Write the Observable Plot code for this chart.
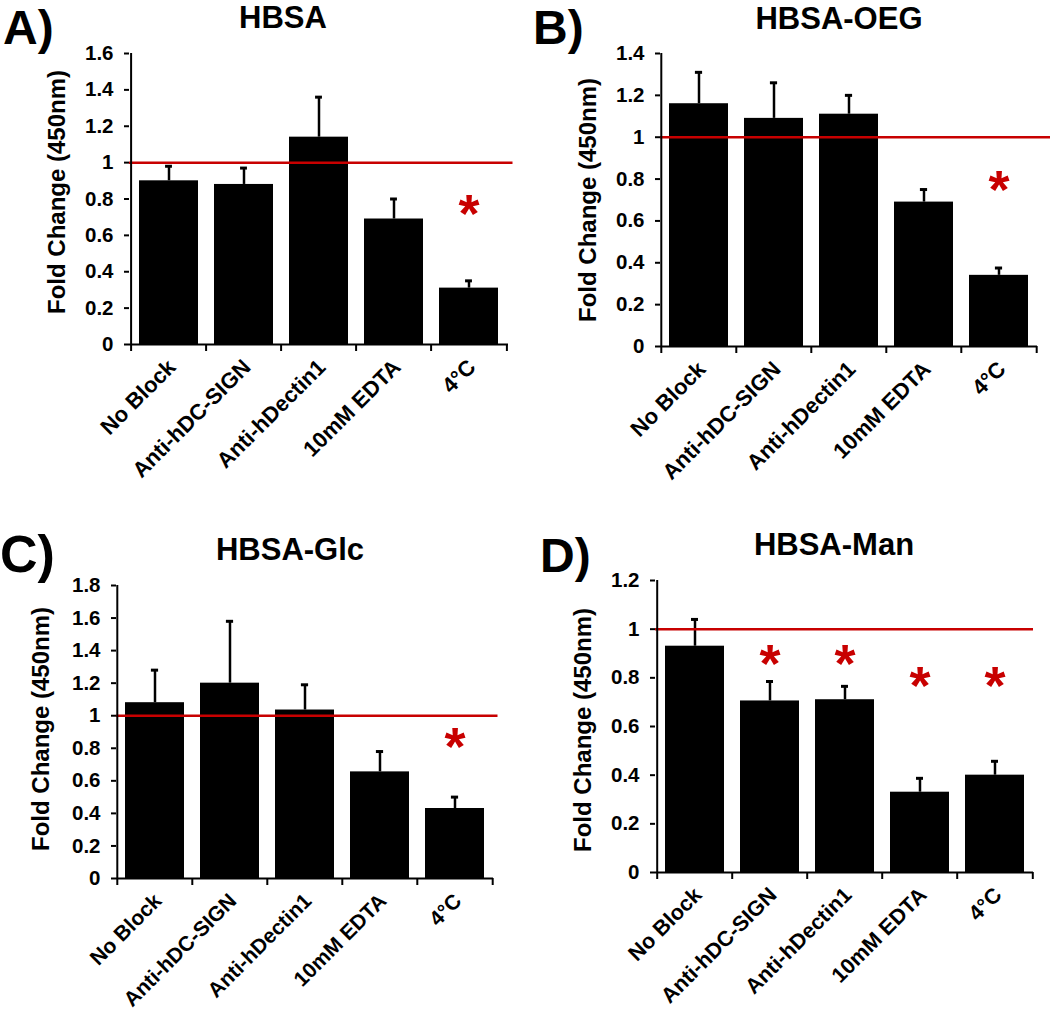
<!DOCTYPE html>
<html><head><meta charset="utf-8">
<script src="https://cdn.jsdelivr.net/npm/d3@7"></script>
<script src="https://cdn.jsdelivr.net/npm/@observablehq/plot@0.6"></script>
<style>
body{margin:0;background:#fff;}
#fig{position:relative;width:1050px;height:1014px;overflow:hidden;font-family:"Liberation Sans",Arial,sans-serif;font-weight:bold;color:#000;}
.panel{position:absolute;}
.letter{position:absolute;line-height:normal;white-space:nowrap;}
.title{position:absolute;font-size:31px;line-height:normal;white-space:nowrap;transform:translateX(-50%);}
.ylab{position:absolute;font-size:24px;line-height:1;white-space:nowrap;transform:translate(-50%,-50%) rotate(-90deg);}
</style></head>
<body><div id="fig"></div>
<script>
// ---------- data ----------
const categories = ["No Block", "Anti-hDC-SIGN", "Anti-hDectin1", "10mM EDTA", "4°C"];

const hbsaMean    = [0.90, 0.88, 1.14, 0.69, 0.31];
const hbsaErr     = [0.08, 0.09, 0.22, 0.11, 0.04];
const hbsaStars   = [null, null, null, null, 0.79];

const oegMean     = [1.16, 1.09, 1.11, 0.69, 0.34];
const oegErr      = [0.15, 0.17, 0.09, 0.06, 0.035];
const oegStars    = [null, null, null, null, 0.81];

const glcMean     = [1.08, 1.20, 1.035, 0.655, 0.43];
const glcErr      = [0.20, 0.38, 0.155, 0.125, 0.07];
const glcStars    = [null, null, null, null, 0.89];

const manMean     = [0.93, 0.705, 0.71, 0.33, 0.40];
const manErr      = [0.11, 0.08, 0.055, 0.057, 0.057];
const manStars    = [null, 0.91, 0.91, 0.82, 0.82];

const ticksA = [0, 0.2, 0.4, 0.6, 0.8, 1, 1.2, 1.4, 1.6];
const ticksB = [0, 0.2, 0.4, 0.6, 0.8, 1, 1.2, 1.4];
const ticksC = [0, 0.2, 0.4, 0.6, 0.8, 1, 1.2, 1.4, 1.6, 1.8];
const ticksD = [0, 0.2, 0.4, 0.6, 0.8, 1, 1.2];

const baseline = 1; // reference fold change
const yLabel = "Fold Change (450nm)";

// ---------- drawing ----------
const RED = "#c80000";
const PAD = 0.22;
const FONT = "'Liberation Sans', Arial, sans-serif";
const fig = document.getElementById("fig");

function makePanel(opt) {
  const {means, errs, stars, ticks, left, top, width, height, mL, mR, mT, mB, redExt, xFont} = opt;
  const data = categories.map((c, i) => ({cat: c, mean: means[i], top: means[i] + errs[i]}));
  const starData = categories.map((c, i) => ({cat: c, y: stars[i]})).filter(d => d.y != null);
  const step = (width - mL - mR) / categories.length;
  const bw = step * (1 - PAD);
  const capInset = (bw - 7) / 2;
  const yMax = ticks[ticks.length - 1];
  const chart = Plot.plot({
    width, height,
    marginLeft: mL, marginRight: mR, marginTop: mT, marginBottom: mB,
    style: {fontFamily: FONT, fontWeight: "bold", fontSize: "20px", color: "black", background: "transparent", overflow: "visible"},
    x: {domain: categories, paddingInner: PAD, paddingOuter: PAD / 2},
    y: {domain: [0, yMax]},
    marks: [
      Plot.barY(data, {x: "cat", y: "mean", fill: "black"}),
      Plot.ruleX(data, {x: "cat", y1: "mean", y2: "top", stroke: "black", strokeWidth: 2.5}),
      Plot.tickY(data, {x: "cat", y: "top", stroke: "black", strokeWidth: 3, insetLeft: capInset, insetRight: capInset}),
      Plot.ruleY([baseline], {stroke: RED, strokeWidth: 2.5, insetRight: -redExt}),
      Plot.ruleY([0], {stroke: "black", strokeWidth: 2}),
      Plot.ruleX([categories[0]], {dx: -step / 2, stroke: "black", strokeWidth: 2}),
      Plot.ruleX(categories, {x: d => d, y1: 0, y2: 0, insetBottom: -7, dx: -step / 2, stroke: "black", strokeWidth: 2}),
      Plot.ruleX([categories[categories.length - 1]], {x: d => d, y1: 0, y2: 0, insetBottom: -7, dx: step / 2, stroke: "black", strokeWidth: 2}),
      Plot.axisY({ticks, tickSize: 5, tickPadding: 11, tickFormat: d => d3.format("~g")(d), strokeWidth: 2, fontSize: 20.5, label: null}),
      Plot.axisX({tickSize: 0, tickRotate: -45, tickPadding: 19, dx: 3, fontSize: xFont, label: null}),
      Plot.text(starData, {x: "cat", y: "y", text: () => "*", fill: RED, fontSize: 54, fontWeight: "bold", lineAnchor: "middle", dy: 14})
    ]
  });
  const wrap = document.createElement("div");
  wrap.className = "panel";
  wrap.style.left = left + "px";
  wrap.style.top = top + "px";
  wrap.appendChild(chart);
  fig.appendChild(wrap);
}

function addText(cls, txt, x, y, size) {
  const d = document.createElement("div");
  d.className = cls;
  d.textContent = txt;
  d.style.left = x + "px";
  d.style.top = y + "px";
  if (size) d.style.fontSize = size + "px";
  fig.appendChild(d);
}

makePanel({means: hbsaMean, errs: hbsaErr, stars: hbsaStars, ticks: ticksA, xFont: 22,
  left: 0, top: 0, width: 525, height: 505, mL: 129, mR: 17, mT: 53, mB: 161, redExt: 4.5});
makePanel({means: oegMean, errs: oegErr, stars: oegStars, ticks: ticksB, xFont: 22,
  left: 525, top: 0, width: 525, height: 505, mL: 135, mR: 13, mT: 53, mB: 159, redExt: 13});
makePanel({means: glcMean, errs: glcErr, stars: glcStars, ticks: ticksC, xFont: 21,
  left: 0, top: 510, width: 525, height: 504, mL: 116, mR: 32, mT: 75, mB: 136, redExt: 4.5});
makePanel({means: manMean, errs: manErr, stars: manStars, ticks: ticksD, xFont: 21.5,
  left: 525, top: 510, width: 525, height: 504, mL: 130, mR: 17, mT: 70, mB: 142, redExt: 0});

addText("letter", "A)", 3, 0, 48);
addText("letter", "B)", 533, 0, 48);
addText("letter", "C)", 0, 524, 52);
addText("letter", "D)", 540, 528, 48);

addText("title", "HBSA", 283, 0);
addText("title", "HBSA-OEG", 839, 1);
addText("title", "HBSA-Glc", 290, 532);
addText("title", "HBSA-Man", 834, 527);

addText("ylab", yLabel, 57, 192);
addText("ylab", yLabel, 588, 200);
addText("ylab", yLabel, 41, 729);
addText("ylab", yLabel, 583, 730);
</script>
</body></html>
